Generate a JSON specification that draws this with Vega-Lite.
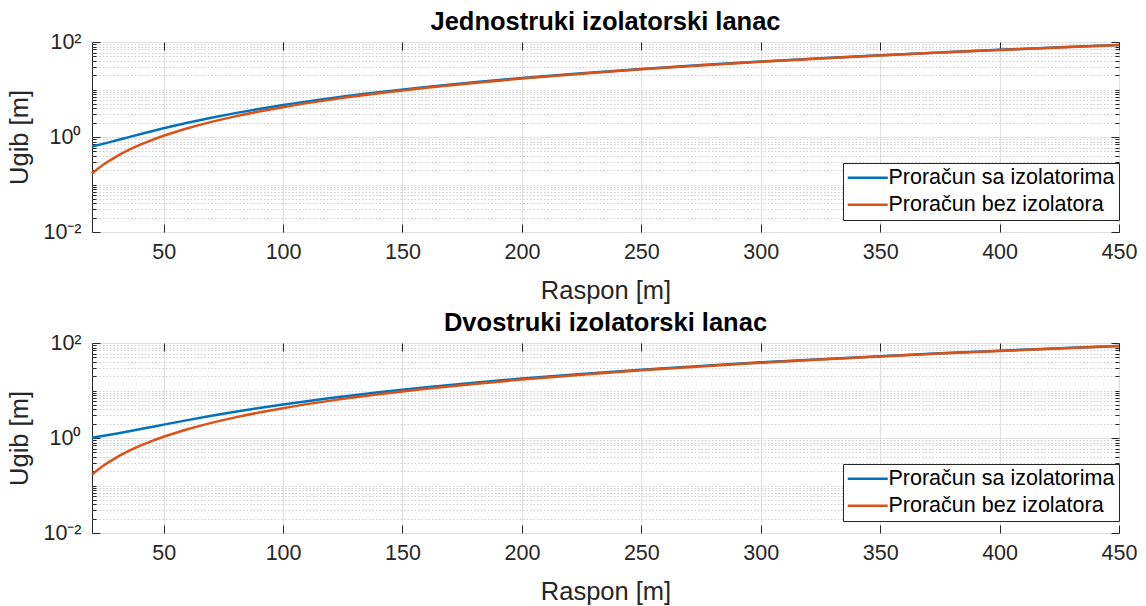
{
  "$schema": "https://vega.github.io/schema/vega-lite/v6.json",
  "background": "white",
  "padding": {"left": 7, "top": 9, "right": 10, "bottom": 2},
  "spacing": 5,
  "datasets": {
    "jed": [
      {"raspon": 20, "ugib": 0.630, "serija": "Proračun sa izolatorima"},
      {"raspon": 25, "ugib": 0.726, "serija": "Proračun sa izolatorima"},
      {"raspon": 30, "ugib": 0.843, "serija": "Proračun sa izolatorima"},
      {"raspon": 35, "ugib": 0.981, "serija": "Proračun sa izolatorima"},
      {"raspon": 40, "ugib": 1.140, "serija": "Proračun sa izolatorima"},
      {"raspon": 45, "ugib": 1.321, "serija": "Proračun sa izolatorima"},
      {"raspon": 50, "ugib": 1.523, "serija": "Proračun sa izolatorima"},
      {"raspon": 60, "ugib": 1.990, "serija": "Proračun sa izolatorima"},
      {"raspon": 70, "ugib": 2.543, "serija": "Proračun sa izolatorima"},
      {"raspon": 80, "ugib": 3.180, "serija": "Proračun sa izolatorima"},
      {"raspon": 90, "ugib": 3.903, "serija": "Proračun sa izolatorima"},
      {"raspon": 100, "ugib": 4.710, "serija": "Proračun sa izolatorima"},
      {"raspon": 120, "ugib": 6.580, "serija": "Proračun sa izolatorima"},
      {"raspon": 140, "ugib": 8.790, "serija": "Proračun sa izolatorima"},
      {"raspon": 160, "ugib": 11.34, "serija": "Proračun sa izolatorima"},
      {"raspon": 180, "ugib": 14.23, "serija": "Proračun sa izolatorima"},
      {"raspon": 200, "ugib": 17.46, "serija": "Proračun sa izolatorima"},
      {"raspon": 225, "ugib": 21.98, "serija": "Proračun sa izolatorima"},
      {"raspon": 250, "ugib": 27.02, "serija": "Proračun sa izolatorima"},
      {"raspon": 275, "ugib": 32.60, "serija": "Proračun sa izolatorima"},
      {"raspon": 300, "ugib": 38.71, "serija": "Proračun sa izolatorima"},
      {"raspon": 325, "ugib": 45.35, "serija": "Proračun sa izolatorima"},
      {"raspon": 350, "ugib": 52.52, "serija": "Proračun sa izolatorima"},
      {"raspon": 375, "ugib": 60.23, "serija": "Proračun sa izolatorima"},
      {"raspon": 400, "ugib": 68.46, "serija": "Proračun sa izolatorima"},
      {"raspon": 425, "ugib": 77.23, "serija": "Proračun sa izolatorima"},
      {"raspon": 450, "ugib": 86.52, "serija": "Proračun sa izolatorima"},
      {"raspon": 20, "ugib": 0.170, "serija": "Proračun bez izolatora"},
      {"raspon": 25, "ugib": 0.266, "serija": "Proračun bez izolatora"},
      {"raspon": 30, "ugib": 0.383, "serija": "Proračun bez izolatora"},
      {"raspon": 35, "ugib": 0.521, "serija": "Proračun bez izolatora"},
      {"raspon": 40, "ugib": 0.680, "serija": "Proračun bez izolatora"},
      {"raspon": 45, "ugib": 0.861, "serija": "Proračun bez izolatora"},
      {"raspon": 50, "ugib": 1.063, "serija": "Proračun bez izolatora"},
      {"raspon": 60, "ugib": 1.530, "serija": "Proračun bez izolatora"},
      {"raspon": 70, "ugib": 2.083, "serija": "Proračun bez izolatora"},
      {"raspon": 80, "ugib": 2.720, "serija": "Proračun bez izolatora"},
      {"raspon": 90, "ugib": 3.443, "serija": "Proračun bez izolatora"},
      {"raspon": 100, "ugib": 4.250, "serija": "Proračun bez izolatora"},
      {"raspon": 120, "ugib": 6.120, "serija": "Proračun bez izolatora"},
      {"raspon": 140, "ugib": 8.330, "serija": "Proračun bez izolatora"},
      {"raspon": 160, "ugib": 10.88, "serija": "Proračun bez izolatora"},
      {"raspon": 180, "ugib": 13.77, "serija": "Proračun bez izolatora"},
      {"raspon": 200, "ugib": 17.00, "serija": "Proračun bez izolatora"},
      {"raspon": 225, "ugib": 21.52, "serija": "Proračun bez izolatora"},
      {"raspon": 250, "ugib": 26.56, "serija": "Proračun bez izolatora"},
      {"raspon": 275, "ugib": 32.14, "serija": "Proračun bez izolatora"},
      {"raspon": 300, "ugib": 38.25, "serija": "Proračun bez izolatora"},
      {"raspon": 325, "ugib": 44.89, "serija": "Proračun bez izolatora"},
      {"raspon": 350, "ugib": 52.06, "serija": "Proračun bez izolatora"},
      {"raspon": 375, "ugib": 59.77, "serija": "Proračun bez izolatora"},
      {"raspon": 400, "ugib": 68.00, "serija": "Proračun bez izolatora"},
      {"raspon": 425, "ugib": 76.77, "serija": "Proračun bez izolatora"},
      {"raspon": 450, "ugib": 86.06, "serija": "Proračun bez izolatora"}
    ],
    "dvo": [
      {"raspon": 20, "ugib": 1.020, "serija": "Proračun sa izolatorima"},
      {"raspon": 25, "ugib": 1.116, "serija": "Proračun sa izolatorima"},
      {"raspon": 30, "ugib": 1.233, "serija": "Proračun sa izolatorima"},
      {"raspon": 35, "ugib": 1.371, "serija": "Proračun sa izolatorima"},
      {"raspon": 40, "ugib": 1.530, "serija": "Proračun sa izolatorima"},
      {"raspon": 45, "ugib": 1.711, "serija": "Proračun sa izolatorima"},
      {"raspon": 50, "ugib": 1.913, "serija": "Proračun sa izolatorima"},
      {"raspon": 60, "ugib": 2.380, "serija": "Proračun sa izolatorima"},
      {"raspon": 70, "ugib": 2.933, "serija": "Proračun sa izolatorima"},
      {"raspon": 80, "ugib": 3.570, "serija": "Proračun sa izolatorima"},
      {"raspon": 90, "ugib": 4.293, "serija": "Proračun sa izolatorima"},
      {"raspon": 100, "ugib": 5.100, "serija": "Proračun sa izolatorima"},
      {"raspon": 120, "ugib": 6.970, "serija": "Proračun sa izolatorima"},
      {"raspon": 140, "ugib": 9.180, "serija": "Proračun sa izolatorima"},
      {"raspon": 160, "ugib": 11.73, "serija": "Proračun sa izolatorima"},
      {"raspon": 180, "ugib": 14.62, "serija": "Proračun sa izolatorima"},
      {"raspon": 200, "ugib": 17.85, "serija": "Proračun sa izolatorima"},
      {"raspon": 225, "ugib": 22.37, "serija": "Proračun sa izolatorima"},
      {"raspon": 250, "ugib": 27.41, "serija": "Proračun sa izolatorima"},
      {"raspon": 275, "ugib": 32.99, "serija": "Proračun sa izolatorima"},
      {"raspon": 300, "ugib": 39.10, "serija": "Proračun sa izolatorima"},
      {"raspon": 325, "ugib": 45.74, "serija": "Proračun sa izolatorima"},
      {"raspon": 350, "ugib": 52.91, "serija": "Proračun sa izolatorima"},
      {"raspon": 375, "ugib": 60.62, "serija": "Proračun sa izolatorima"},
      {"raspon": 400, "ugib": 68.85, "serija": "Proračun sa izolatorima"},
      {"raspon": 425, "ugib": 77.62, "serija": "Proračun sa izolatorima"},
      {"raspon": 450, "ugib": 86.91, "serija": "Proračun sa izolatorima"},
      {"raspon": 20, "ugib": 0.170, "serija": "Proračun bez izolatora"},
      {"raspon": 25, "ugib": 0.266, "serija": "Proračun bez izolatora"},
      {"raspon": 30, "ugib": 0.383, "serija": "Proračun bez izolatora"},
      {"raspon": 35, "ugib": 0.521, "serija": "Proračun bez izolatora"},
      {"raspon": 40, "ugib": 0.680, "serija": "Proračun bez izolatora"},
      {"raspon": 45, "ugib": 0.861, "serija": "Proračun bez izolatora"},
      {"raspon": 50, "ugib": 1.063, "serija": "Proračun bez izolatora"},
      {"raspon": 60, "ugib": 1.530, "serija": "Proračun bez izolatora"},
      {"raspon": 70, "ugib": 2.083, "serija": "Proračun bez izolatora"},
      {"raspon": 80, "ugib": 2.720, "serija": "Proračun bez izolatora"},
      {"raspon": 90, "ugib": 3.443, "serija": "Proračun bez izolatora"},
      {"raspon": 100, "ugib": 4.250, "serija": "Proračun bez izolatora"},
      {"raspon": 120, "ugib": 6.120, "serija": "Proračun bez izolatora"},
      {"raspon": 140, "ugib": 8.330, "serija": "Proračun bez izolatora"},
      {"raspon": 160, "ugib": 10.88, "serija": "Proračun bez izolatora"},
      {"raspon": 180, "ugib": 13.77, "serija": "Proračun bez izolatora"},
      {"raspon": 200, "ugib": 17.00, "serija": "Proračun bez izolatora"},
      {"raspon": 225, "ugib": 21.52, "serija": "Proračun bez izolatora"},
      {"raspon": 250, "ugib": 26.56, "serija": "Proračun bez izolatora"},
      {"raspon": 275, "ugib": 32.14, "serija": "Proračun bez izolatora"},
      {"raspon": 300, "ugib": 38.25, "serija": "Proračun bez izolatora"},
      {"raspon": 325, "ugib": 44.89, "serija": "Proračun bez izolatora"},
      {"raspon": 350, "ugib": 52.06, "serija": "Proračun bez izolatora"},
      {"raspon": 375, "ugib": 59.77, "serija": "Proračun bez izolatora"},
      {"raspon": 400, "ugib": 68.00, "serija": "Proračun bez izolatora"},
      {"raspon": 425, "ugib": 76.77, "serija": "Proračun bez izolatora"},
      {"raspon": 450, "ugib": 86.06, "serija": "Proračun bez izolatora"}
    ]
  },
  "config": {
    "font": "Liberation Sans",
    "view": {"stroke": "#262626", "strokeWidth": 1},
    "title": {"fontSize": 25.5, "fontWeight": "bold", "color": "#000000", "offset": -4, "anchor": "middle"},
    "axis": {"labelFontSize": 21.5, "labelColor": "#262626", "titleFontSize": 25.5, "titleFontWeight": "normal", "titleColor": "#262626", "domain": false, "tickColor": "#262626", "tickWidth": 1, "gridColor": "#e0e0e0", "gridWidth": 1},
    "legend": {"labelFontSize": 21.5, "labelColor": "#000000", "symbolType": "M-4,0H4", "symbolSize": 100, "symbolStrokeWidth": 2.5, "symbolOffset": 10, "labelOffset": 10, "rowPadding": 4, "strokeColor": "#262626", "fillColor": "white", "padding": 4, "cornerRadius": 0, "labelLimit": 400}
  },
  "resolve": {"legend": {"color": "independent"}},
  "vconcat": [
    {
      "title": "Jednostruki izolatorski lanac",
      "width": 1027,
      "height": 190,
      "data": {"name": "jed"},
      "resolve": {"axis": {"x": "independent", "y": "independent"}},
      "layer": [
        {
          "mark": {"type": "line", "strokeWidth": 2.5, "interpolate": "monotone"},
          "encoding": {
            "x": {"field": "raspon", "type": "quantitative", "scale": {"domain": [20, 450], "nice": false, "zero": false},
              "axis": {"orient": "bottom", "title": "Raspon [m]", "values": [50, 100, 150, 200, 250, 300, 350, 400, 450], "grid": true, "tickSize": -8, "labelPadding": 17, "titlePadding": 16, "labelFlush": false}},
            "y": {"field": "ugib", "type": "quantitative", "scale": {"type": "log", "domain": [0.01, 100], "nice": false},
              "axis": {"orient": "left", "title": "Ugib [m]", "titlePadding": 10, "labelPadding": 19, "labelOverlap": false, "labelBound": false, "labelFlush": false,
                "values": [0.01, 0.02, 0.03, 0.04, 0.05, 0.06, 0.07, 0.08, 0.09, 0.1, 0.2, 0.3, 0.4, 0.5, 0.6, 0.7, 0.8, 0.9, 1, 2, 3, 4, 5, 6, 7, 8, 9, 10, 20, 30, 40, 50, 60, 70, 80, 90, 100],
                "labelExpr": "datum.value == 0.01 ? '10⁻²' : datum.value == 1 ? '10⁰' : datum.value == 100 ? '10²' : ''",
                "grid": true,
                "gridDash": {"condition": {"test": "indexof([0.01, 1, 100], datum.value) < 0", "value": [1.5, 2]}, "value": []},
                "gridColor": {"condition": {"test": "indexof([0.01, 1, 100], datum.value) < 0", "value": "#cccccc"}, "value": "#e0e0e0"},
                "tickSize": {"condition": {"test": "indexof([0.01, 1, 100], datum.value) < 0", "value": -4}, "value": -8}}},
            "color": {"field": "serija", "type": "nominal",
              "scale": {"domain": ["Proračun sa izolatorima", "Proračun bez izolatora"], "range": ["#0072BD", "#D95319"]},
              "legend": {"title": null, "orient": "none", "legendX": 751, "legendY": 121}}
          }
        },
        {
          "mark": {"type": "line", "opacity": 0},
          "encoding": {
            "x": {"field": "raspon", "type": "quantitative", "scale": {"domain": [20, 450], "nice": false, "zero": false},
              "axis": {"orient": "top", "title": null, "labels": false, "grid": false, "values": [50, 100, 150, 200, 250, 300, 350, 400, 450], "tickSize": -8, "minExtent": 0, "maxExtent": 0}},
            "y": {"field": "ugib", "type": "quantitative", "scale": {"type": "log", "domain": [0.01, 100], "nice": false},
              "axis": {"orient": "right", "title": null, "labels": false, "grid": false, "minExtent": 0, "maxExtent": 0,
                "values": [0.01, 0.02, 0.03, 0.04, 0.05, 0.06, 0.07, 0.08, 0.09, 0.1, 0.2, 0.3, 0.4, 0.5, 0.6, 0.7, 0.8, 0.9, 1, 2, 3, 4, 5, 6, 7, 8, 9, 10, 20, 30, 40, 50, 60, 70, 80, 90, 100],
                "tickSize": {"condition": {"test": "indexof([0.01, 1, 100], datum.value) < 0", "value": -4}, "value": -8}}}
          }
        }
      ]
    },
    {
      "title": "Dvostruki izolatorski lanac",
      "width": 1027,
      "height": 190,
      "data": {"name": "dvo"},
      "resolve": {"axis": {"x": "independent", "y": "independent"}},
      "layer": [
        {
          "mark": {"type": "line", "strokeWidth": 2.5, "interpolate": "monotone"},
          "encoding": {
            "x": {"field": "raspon", "type": "quantitative", "scale": {"domain": [20, 450], "nice": false, "zero": false},
              "axis": {"orient": "bottom", "title": "Raspon [m]", "values": [50, 100, 150, 200, 250, 300, 350, 400, 450], "grid": true, "tickSize": -8, "labelPadding": 17, "titlePadding": 16, "labelFlush": false}},
            "y": {"field": "ugib", "type": "quantitative", "scale": {"type": "log", "domain": [0.01, 100], "nice": false},
              "axis": {"orient": "left", "title": "Ugib [m]", "titlePadding": 10, "labelPadding": 19, "labelOverlap": false, "labelBound": false, "labelFlush": false,
                "values": [0.01, 0.02, 0.03, 0.04, 0.05, 0.06, 0.07, 0.08, 0.09, 0.1, 0.2, 0.3, 0.4, 0.5, 0.6, 0.7, 0.8, 0.9, 1, 2, 3, 4, 5, 6, 7, 8, 9, 10, 20, 30, 40, 50, 60, 70, 80, 90, 100],
                "labelExpr": "datum.value == 0.01 ? '10⁻²' : datum.value == 1 ? '10⁰' : datum.value == 100 ? '10²' : ''",
                "grid": true,
                "gridDash": {"condition": {"test": "indexof([0.01, 1, 100], datum.value) < 0", "value": [1.5, 2]}, "value": []},
                "gridColor": {"condition": {"test": "indexof([0.01, 1, 100], datum.value) < 0", "value": "#cccccc"}, "value": "#e0e0e0"},
                "tickSize": {"condition": {"test": "indexof([0.01, 1, 100], datum.value) < 0", "value": -4}, "value": -8}}},
            "color": {"field": "serija", "type": "nominal",
              "scale": {"domain": ["Proračun sa izolatorima", "Proračun bez izolatora"], "range": ["#0072BD", "#D95319"]},
              "legend": {"title": null, "orient": "none", "legendX": 751, "legendY": 121}}
          }
        },
        {
          "mark": {"type": "line", "opacity": 0},
          "encoding": {
            "x": {"field": "raspon", "type": "quantitative", "scale": {"domain": [20, 450], "nice": false, "zero": false},
              "axis": {"orient": "top", "title": null, "labels": false, "grid": false, "values": [50, 100, 150, 200, 250, 300, 350, 400, 450], "tickSize": -8, "minExtent": 0, "maxExtent": 0}},
            "y": {"field": "ugib", "type": "quantitative", "scale": {"type": "log", "domain": [0.01, 100], "nice": false},
              "axis": {"orient": "right", "title": null, "labels": false, "grid": false, "minExtent": 0, "maxExtent": 0,
                "values": [0.01, 0.02, 0.03, 0.04, 0.05, 0.06, 0.07, 0.08, 0.09, 0.1, 0.2, 0.3, 0.4, 0.5, 0.6, 0.7, 0.8, 0.9, 1, 2, 3, 4, 5, 6, 7, 8, 9, 10, 20, 30, 40, 50, 60, 70, 80, 90, 100],
                "tickSize": {"condition": {"test": "indexof([0.01, 1, 100], datum.value) < 0", "value": -4}, "value": -8}}}
          }
        }
      ]
    }
  ]
}
